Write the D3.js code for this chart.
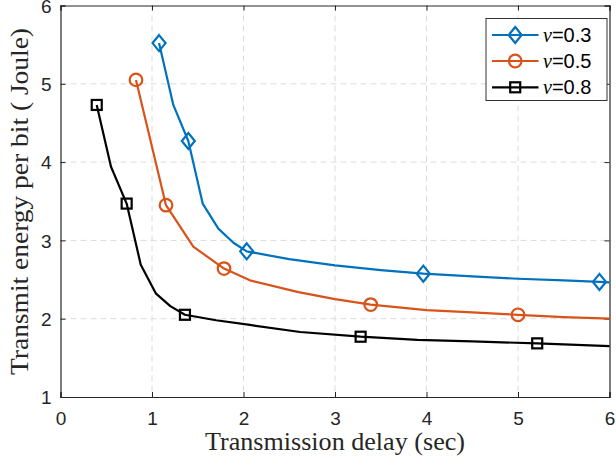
<!DOCTYPE html>
<html><head><meta charset="utf-8">
<script src="https://cdn.jsdelivr.net/npm/d3@7"></script>
<style>html,body{margin:0;padding:0;background:#fff;}svg{display:block;}</style>
</head><body>
<svg id="c" width="616" height="465"></svg>
<script>
const xTicks = [0,1,2,3,4,5,6];
const yTicks = [1,2,3,4,5,6];
const seriesNames = ["\u03BD=0.3","\u03BD=0.5","\u03BD=0.8"];
const seriesColors = ["#0072BD","#D95319","#000000"];
const markerTypes = ["diamond","circle","square"];
// curve samples [x, y]
const line03 = [[1.077,5.52],[1.233,4.73],[1.397,4.27],[1.554,3.47],[1.725,3.15],[1.89,2.97],[2.035,2.86],[2.5,2.76],[3.0,2.68],[3.5,2.62],[3.965,2.575],[4.5,2.54],[5.0,2.51],[5.5,2.49],[5.89,2.47],[6.0,2.465]];
const line05 = [[0.825,5.05],[1.153,3.45],[1.451,2.92],[1.787,2.64],[2.07,2.49],[2.6,2.34],[3.0,2.25],[3.39,2.18],[4.0,2.11],[4.5,2.08],[5.0,2.05],[5.5,2.02],[6.0,2.0]];
const line08 = [[0.396,4.73],[0.552,3.94],[0.723,3.47],[0.877,2.69],[1.044,2.32],[1.2,2.16],[1.36,2.05],[1.7,1.98],[2.07,1.92],[2.62,1.83],[3.28,1.77],[3.9,1.73],[4.5,1.71],[5.21,1.685],[6.0,1.65]];
const marks03 = [[1.077,5.52],[1.397,4.27],[2.035,2.86],[3.965,2.575],[5.89,2.47]];
const marks05 = [[0.825,5.05],[1.153,3.45],[1.787,2.64],[3.39,2.18],[5.0,2.05]];
const marks08 = [[0.396,4.73],[0.723,3.47],[1.36,2.05],[3.28,1.77],[5.21,1.685]];
const xLabel = "Transmission delay (sec)";
const yLabel = "Transmit energy per bit ( Joule)";

const lines = [line03, line05, line08];
const marks = [marks03, marks05, marks08];

const svg = d3.select("#c");
const L = 60.5, R = 609.5, T = 5.5, B = 397;
const x = d3.scaleLinear().domain([0,6]).range([L,R]);
const y = d3.scaleLinear().domain([1,6]).range([B,T]);
const axisColor = "#262626";

// grid
const g = svg.append("g");
g.selectAll(".gx").data(xTicks.slice(1,-1)).enter().append("line")
  .attr("x1",d=>x(d)).attr("x2",d=>x(d)).attr("y1",T).attr("y2",B)
  .attr("stroke","#dcdcdc").attr("stroke-width",1).attr("stroke-dasharray","6,4");
g.selectAll(".gy").data(yTicks.slice(1,-1)).enter().append("line")
  .attr("y1",d=>y(d)).attr("y2",d=>y(d)).attr("x1",L).attr("x2",R)
  .attr("stroke","#dcdcdc").attr("stroke-width",1).attr("stroke-dasharray","6,4");

// axes
const fontSans = "'Liberation Sans', Arial, Helvetica, sans-serif";
const ax = svg.append("g").attr("transform",`translate(0,${B})`)
  .call(d3.axisBottom(x).tickValues(xTicks).tickSize(-5).tickPadding(15).tickFormat(d3.format("d")));
const axT = svg.append("g").attr("transform",`translate(0,${T})`)
  .call(d3.axisTop(x).tickValues(xTicks).tickSize(-5).tickFormat(""));
const ay = svg.append("g").attr("transform",`translate(${L},0)`)
  .call(d3.axisLeft(y).tickValues(yTicks).tickSize(-5).tickPadding(9).tickFormat(d3.format("d")));
const ayR = svg.append("g").attr("transform",`translate(${R},0)`)
  .call(d3.axisRight(y).tickValues(yTicks).tickSize(-5).tickFormat(""));
[ax,axT,ay,ayR].forEach(a=>{
  a.select(".domain").attr("stroke",axisColor).attr("stroke-width",1.2);
  a.selectAll(".tick line").attr("stroke",axisColor).attr("stroke-width",1);
  a.selectAll("text").attr("fill",axisColor).style("font-family",fontSans).style("font-size","19px");
});
ax.selectAll("text").attr("dy","0.71em");
ay.selectAll("text").attr("dy","0.36em");

// lines
const lineGen = d3.line().x(d=>x(d[0])).y(d=>y(d[1]));
const plot = svg.append("g");
lines.forEach((ln,i)=>{
  plot.append("path").datum(ln).attr("d",lineGen).attr("fill","none")
    .attr("stroke",seriesColors[i]).attr("stroke-width",2.2).attr("stroke-linejoin","round");
});

function drawMarker(sel, type, cx, cy, color){
  if(type==="diamond"){
    sel.append("path").attr("d",`M${cx},${cy-8}L${cx+6.5},${cy}L${cx},${cy+8}L${cx-6.5},${cy}Z`)
      .attr("fill","none").attr("stroke",color).attr("stroke-width",2.2);
  } else if(type==="circle"){
    sel.append("circle").attr("cx",cx).attr("cy",cy).attr("r",6.3)
      .attr("fill","none").attr("stroke",color).attr("stroke-width",2.2);
  } else {
    sel.append("rect").attr("x",cx-5).attr("y",cy-5).attr("width",10).attr("height",10)
      .attr("fill","none").attr("stroke",color).attr("stroke-width",2.2);
  }
}
marks.forEach((ms,i)=>{
  ms.forEach(m=>drawMarker(plot, markerTypes[i], x(m[0]), y(m[1]), seriesColors[i]));
});

// legend
const lg = svg.append("g");
const lx0 = 486, ly0 = 18.5, lw = 121, lh = 82;
lg.append("rect").attr("x",lx0).attr("y",ly0).attr("width",lw).attr("height",lh)
  .attr("fill","#fff").attr("stroke","#333").attr("stroke-width",1);
const rowY = [35, 61, 87.3];
seriesNames.forEach((nm,i)=>{
  lg.append("line").attr("x1",492).attr("x2",538.5).attr("y1",rowY[i]).attr("y2",rowY[i])
    .attr("stroke",seriesColors[i]).attr("stroke-width",2.2);
  drawMarker(lg, markerTypes[i], 515.2, rowY[i], seriesColors[i]);
  const t = lg.append("text").attr("x",543).attr("y",rowY[i]).attr("dy","0.35em")
    .style("font-size","20px").attr("fill","#000");
  t.append("tspan").text(nm.slice(0,1)).style("font-family","'Liberation Serif', 'DejaVu Serif', serif").style("font-style","italic");
  t.append("tspan").text(nm.slice(1)).style("font-family",fontSans);
});

// axis labels
svg.append("text").attr("x",(L+R)/2).attr("y",450).attr("text-anchor","middle")
  .attr("textLength",260).attr("lengthAdjust","spacingAndGlyphs")
  .style("font-family","'Liberation Serif','DejaVu Serif',serif").style("font-size","25px")
  .attr("fill","#262626").text(xLabel);
svg.append("text").attr("transform",`translate(28,201.5) rotate(-90)`).attr("text-anchor","middle")
  .attr("textLength",347).attr("lengthAdjust","spacingAndGlyphs")
  .style("font-family","'Liberation Serif','DejaVu Serif',serif").style("font-size","25px")
  .attr("fill","#262626").text(yLabel);
</script>
</body></html>
